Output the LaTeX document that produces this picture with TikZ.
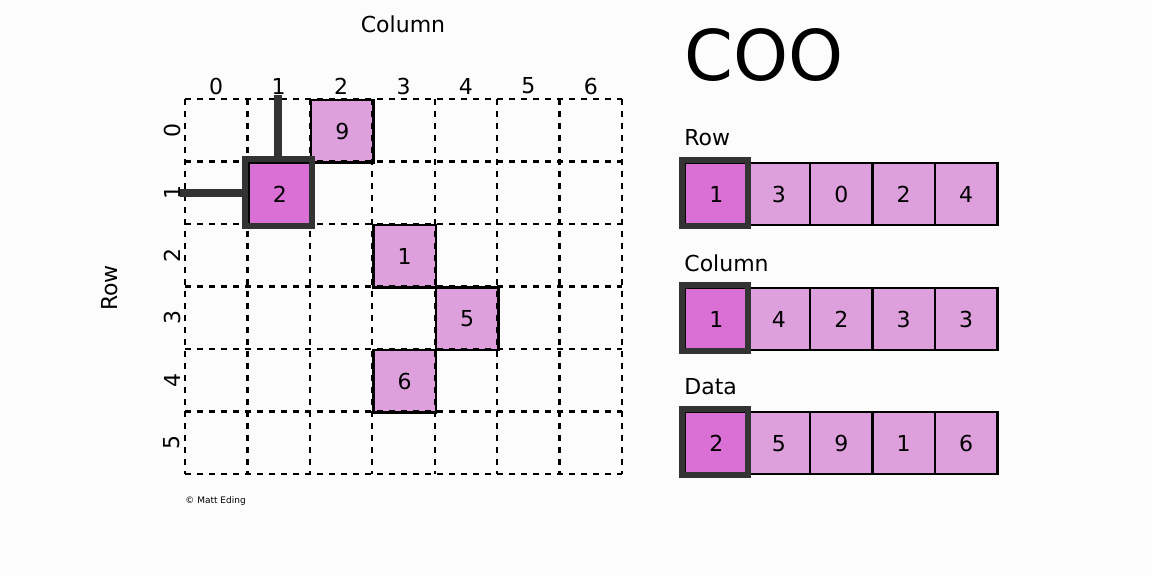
\documentclass[tikz,border=0pt]{standalone}
\usepackage{fontspec}
\setmainfont{DejaVu Sans}
\begin{document}
\begin{tikzpicture}[x=0.5pt,y=-0.5pt,
  lt/.style={fill={rgb,255:red,221;green,160;blue,221},draw=black,line width=1.2pt},
  dk/.style={fill={rgb,255:red,218;green,112;blue,214},draw=black,line width=1.2pt},
  hl/.style={draw={rgb,255:red,51;green,51;blue,51},line width=3pt},
  lbl/.style={font=\fontsize{11}{13}\selectfont},
  ptr/.style={draw={rgb,255:red,51;green,51;blue,51},line width=4pt}]
\fill[white!99!black] (0,0) rectangle (1152,576);
\useasboundingbox (0,0) rectangle (1152,576);
\def\W{62.43}\def\H{62.5}
% filled cells
\foreach \r/\c/\v in {0/2/9,2/3/1,3/4/5,4/3/6}{
  \node[lt,minimum width=31.2pt,minimum height=31.25pt,anchor=north west,inner sep=0,lbl] (g\r\c) at ({185+\c*\W},{99+\r*\H}) {\v};}
\node[dk,minimum width=31.2pt,minimum height=31.25pt,anchor=north west,inner sep=0,lbl] (g11) at ({185+\W},{99+\H}) {2};
% dashed grid
\foreach \i in {0,...,7} \draw[dashed,line width=1.2pt] ({185+\i*\W},99) -- ({185+\i*\W},474);
\foreach \j in {0,...,6} \draw[dashed,line width=1.2pt] (185,{99+\j*\H}) -- (622,{99+\j*\H});
\draw[hl] ({185+\W-2},{99+\H-2}) rectangle ({185+2*\W+2},{99+2*\H+2});
% pointers
\coordinate (pv) at (278,95); \coordinate (ph) at (180,193);
\draw[ptr] (pv) -- (278,161);
\draw[ptr] (ph) -- (246,193);
% labels
\foreach \c in {0,...,6} \node[lbl] (cl\c) at ({185+(\c+0.5)*\W},86) {\c};
\foreach \r in {0,...,5} \node[lbl,rotate=90] (rl\r) at (172,{99+(\r+0.5)*\H}) {\r};
\node[lbl] (coltitle) at (403,24) {Column};
\node[lbl,rotate=90] (rowtitle) at (110,288) {Row};
\node[font=\fontsize{35}{40}\selectfont,anchor=west,inner sep=0] (coo) at (684,55) {COO};
\node[font=\fontsize{4.5}{5}\selectfont,anchor=west,inner sep=0] (copy) at (185,501) {© Matt Eding};
% arrays
\foreach \name/\y/\vals in {Row/162/{1,3,0,2,4},Column/287/{1,4,2,3,3},Data/411/{2,5,9,1,6}}{
  \node[lbl,anchor=west,inner sep=0] (t\name) at (684,{\y-24}) {\name};
  \foreach \v [count=\k from 0] in \vals {
    \ifnum\k=0
      \node[dk,minimum width=31.2pt,minimum height=31pt,anchor=north west,inner sep=0,lbl] (a\name\k) at ({684+\k*\W},\y) {\v};
    \else
      \node[lt,minimum width=31.2pt,minimum height=31pt,anchor=north west,inner sep=0,lbl] (a\name\k) at ({684+\k*\W},\y) {\v};
    \fi}
  \draw[hl] (682,{\y-2}) rectangle ({684+\W+2},{\y+64});
}
\end{tikzpicture}
\end{document}
